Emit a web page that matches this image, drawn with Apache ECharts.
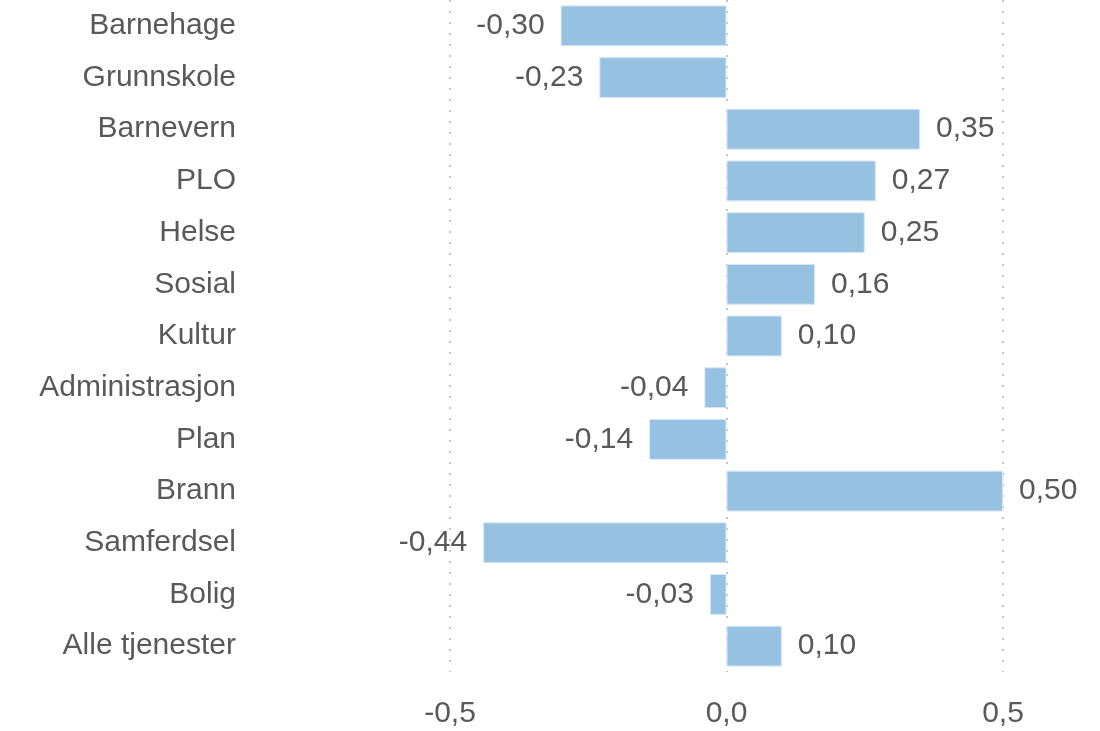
<!DOCTYPE html>
<html>

<head>
    <meta charset="utf-8">
    <title>ECharts</title>
    <script src="https://cdn.jsdelivr.net/npm/echarts@6/dist/echarts.min.js"></script>
    <style>
        body { margin: 0; }
    </style>
</head>

<body>
    <div id="main" style="width: 1100px;height:731px;"></div>
    <script type="text/javascript">
        var categories = ['Barnehage', 'Grunnskole', 'Barnevern', 'PLO', 'Helse', 'Sosial', 'Kultur',
            'Administrasjon', 'Plan', 'Brann', 'Samferdsel', 'Bolig', 'Alle tjenester'];
        var values = [-0.30, -0.23, 0.35, 0.27, 0.25, 0.16, 0.10, -0.04, -0.14, 0.50, -0.44, -0.03, 0.10];
        var xTicks = [-0.5, 0, 0.5];

        var chartDom = document.getElementById('main');
        var myChart = echarts.init(chartDom);
        var option;

        var textColor = '#595959';
        var fontFamily = '"Liberation Sans", Arial, sans-serif';
        var fontSize = 30;

        // negative bars get their label on the left side
        var barData = values.map(function (v) {
            return {
                value: v,
                label: { position: v < 0 ? 'left' : 'right' }
            };
        });

        option = {
            animation: false,
            grid: {
                left: 450,
                right: 97,
                top: 0,
                bottom: 59
            },
            xAxis: {
                type: 'value',
                min: xTicks[0],
                max: xTicks[xTicks.length - 1],
                interval: 0.5,
                axisLine: { show: false },
                axisTick: { show: false },
                splitLine: {
                    show: true,
                    lineStyle: { color: '#c4c4c4', type: [2, 9], width: 2 }
                },
                axisLabel: {
                    margin: 27,
                    color: textColor,
                    fontSize: fontSize,
                    fontFamily: fontFamily,
                    formatter: function (v) {
                        return v.toFixed(1).replace('.', ',');
                    }
                }
            },
            yAxis: {
                type: 'category',
                data: categories,
                inverse: true,
                axisLine: { show: false },
                axisTick: { show: false },
                axisLabel: {
                    margin: 214,
                    color: textColor,
                    fontSize: fontSize,
                    fontFamily: fontFamily
                }
            },
            series: [{
                type: 'bar',
                data: barData,
                barCategoryGap: '21%',
                itemStyle: {
                    color: '#97c1e1',
                    borderColor: '#d6e7f4',
                    borderWidth: 1
                },
                label: {
                    show: true,
                    distance: 16,
                    color: textColor,
                    fontSize: fontSize,
                    fontFamily: fontFamily,
                    formatter: function (p) {
                        return p.value.toFixed(2).replace('.', ',');
                    }
                }
            }]
        };

        option && myChart.setOption(option);
    </script>
</body>

</html>
